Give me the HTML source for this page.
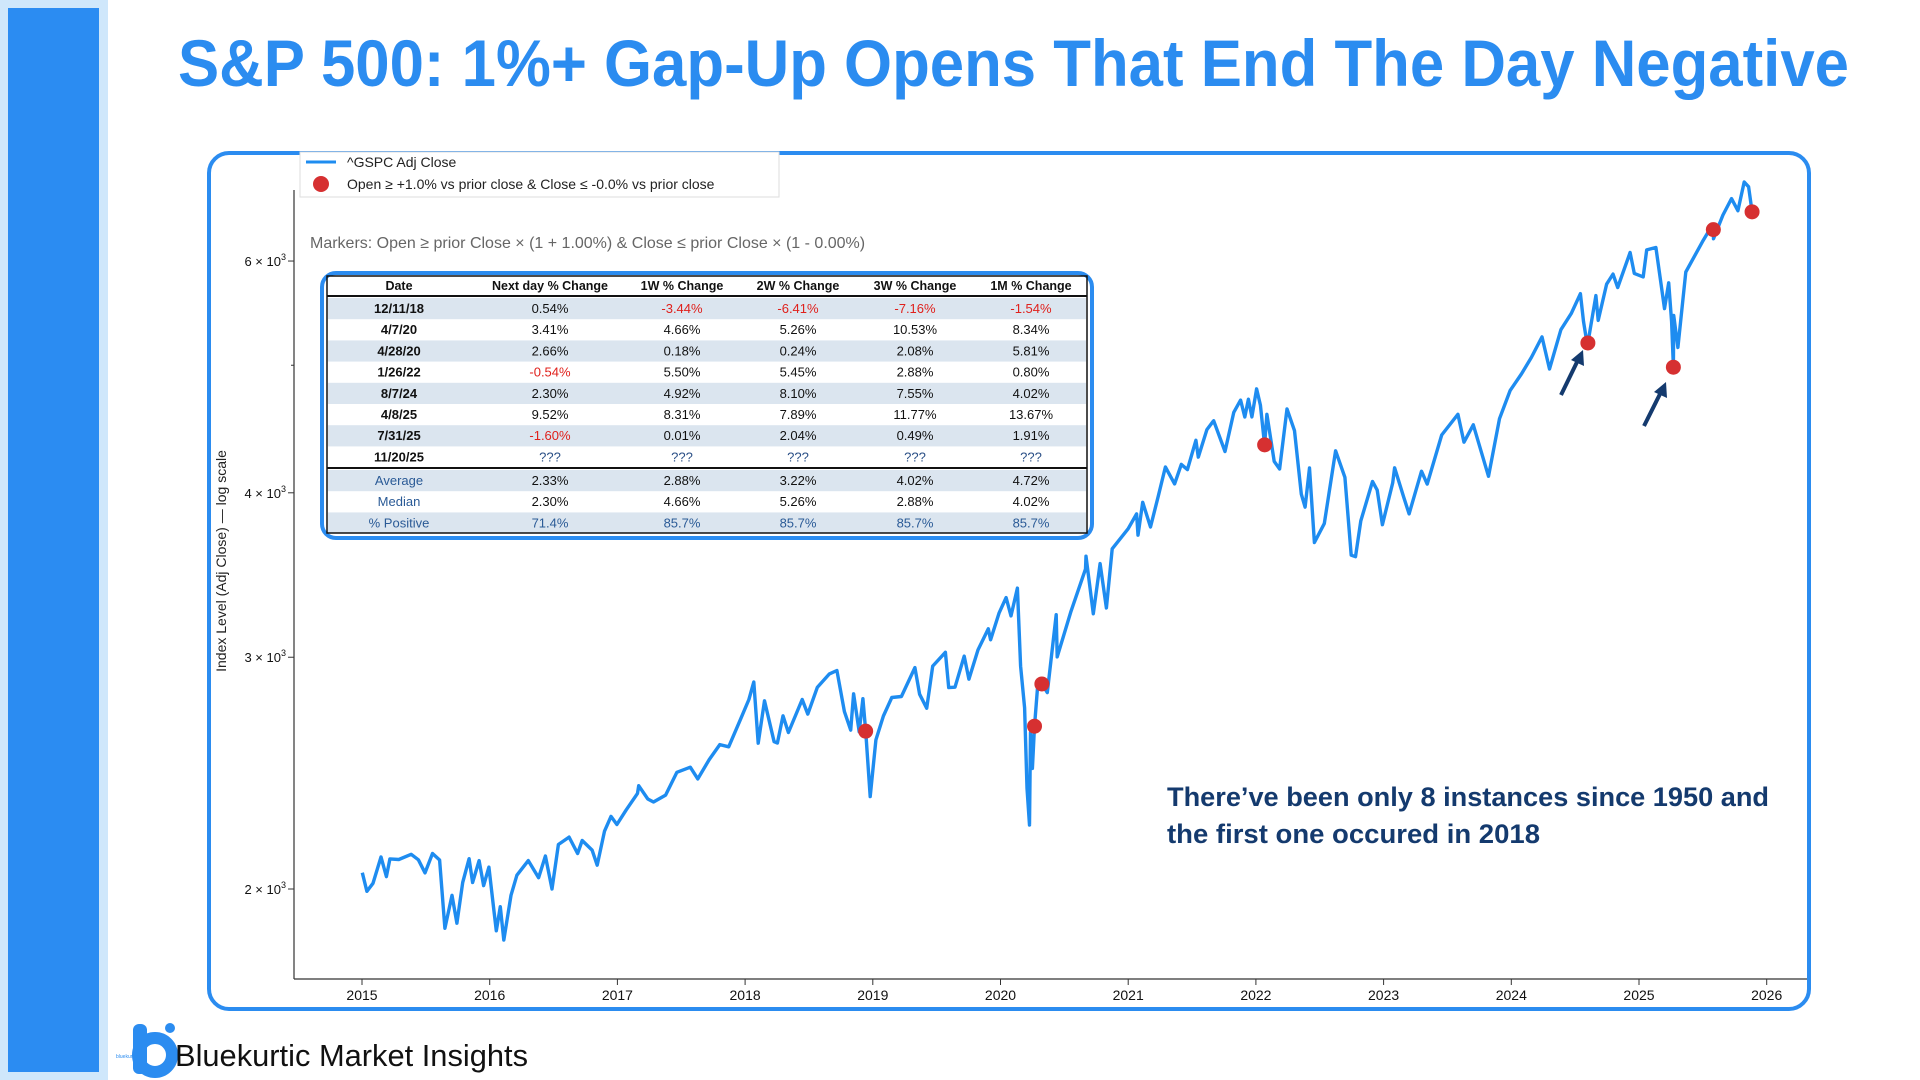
<!DOCTYPE html>
<html><head><meta charset="utf-8">
<style>
html,body{margin:0;padding:0;background:#fff;}
svg{display:block;font-family:"Liberation Sans",sans-serif;}
</style></head>
<body>
<svg id="root" width="1920" height="1080" viewBox="0 0 1920 1080" xmlns="http://www.w3.org/2000/svg">
  <rect x="0" y="0" width="108" height="1080" fill="#cfe7fb"/>
  <rect x="8" y="8" width="91" height="1064" fill="#2b8cf2"/>
  <text x="178" y="86" font-size="66" font-weight="bold" fill="#2b8cf0" textLength="1671" lengthAdjust="spacingAndGlyphs">S&amp;P 500: 1%+ Gap-Up Opens That End The Day Negative</text>

  <rect x="209" y="153" width="1600" height="856" rx="20" ry="20" fill="none" stroke="#2b8cf0" stroke-width="4"/>

  <g id="axes">
    <line x1="294" y1="190" x2="294" y2="979" stroke="#333" stroke-width="1.2"/>
    <line x1="294" y1="979" x2="1807" y2="979" stroke="#333" stroke-width="1.2"/>
  </g>
  <g id="xticks"></g>
  <g id="yticks"></g>
  <text transform="translate(226,561) rotate(-90)" text-anchor="middle" font-size="14" fill="#222">Index Level (Adj Close) — log scale</text>

  <path id="series" fill="none" stroke="#1e8cf0" stroke-width="3.4" stroke-linejoin="round"/>
  <g id="markers"></g>

  <g>
    <rect x="300" y="152" width="479" height="45" fill="#fff" stroke="#ddd"/>
    <line x1="306" y1="162" x2="336" y2="162" stroke="#1e8cf0" stroke-width="3"/>
    <text x="347" y="167" font-size="14" fill="#222">^GSPC Adj Close</text>
    <circle cx="321" cy="184" r="8" fill="#d63031"/>
    <text x="347" y="189" font-size="14" fill="#222">Open ≥ +1.0% vs prior close &amp; Close ≤ -0.0% vs prior close</text>
  </g>
  <text x="310" y="248" font-size="16" fill="#666">Markers: Open ≥ prior Close × (1 + 1.00%) &amp; Close ≤ prior Close × (1 - 0.00%)</text>

  <g id="table">
    <rect x="322" y="273" width="770" height="265" rx="14" fill="#fff" stroke="#2b8cf0" stroke-width="4"/>
  </g>

  <text x="1167" y="806" font-size="27" font-weight="bold" fill="#143a6e" textLength="602" lengthAdjust="spacingAndGlyphs">There’ve been only 8 instances since 1950 and</text>
  <text x="1167" y="843" font-size="27" font-weight="bold" fill="#143a6e" textLength="373" lengthAdjust="spacingAndGlyphs">the first one occured in 2018</text>

  <g>
    <line x1="1561" y1="395" x2="1578" y2="360" stroke="#143a6e" stroke-width="4"/>
    <polygon points="1583,350 1571,360 1584,366" fill="#143a6e"/>
  </g>
  <g>
    <line x1="1644" y1="426" x2="1661" y2="392" stroke="#143a6e" stroke-width="4"/>
    <polygon points="1666,382 1654,392 1667,398" fill="#143a6e"/>
  </g>

  <g>
    <rect x="133" y="1024" width="14" height="50" rx="6" fill="#2b8cf0"/>
    <circle cx="155" cy="1055" r="17" fill="none" stroke="#2b8cf0" stroke-width="12"/>
    <circle cx="170" cy="1028" r="5" fill="#2b8cf0"/>
    <text x="116" y="1058" font-size="5" fill="#2b8cf0">bluekurtic</text>
  </g>
  <text x="175" y="1066" font-size="31" fill="#111" textLength="353" lengthAdjust="spacingAndGlyphs">Bluekurtic Market Insights</text>
</svg>
<script>
const dates = ["2015-01-02","2015-01-15","2015-02-02","2015-02-25","2015-03-10","2015-03-20","2015-04-15","2015-05-20","2015-06-10","2015-06-29","2015-07-20","2015-08-10","2015-08-25","2015-09-15","2015-09-29","2015-10-15","2015-11-03","2015-11-13","2015-12-01","2015-12-14","2015-12-29",
"2016-01-12","2016-01-20","2016-02-01","2016-02-11","2016-03-01","2016-03-18","2016-04-20","2016-05-19","2016-06-08","2016-06-27","2016-07-15","2016-08-15","2016-09-09","2016-09-22","2016-10-20","2016-11-04","2016-11-25","2016-12-13","2016-12-30",
"2017-01-26","2017-02-28","2017-03-01","2017-03-27","2017-04-13","2017-05-17","2017-06-19","2017-07-27","2017-08-18","2017-09-20","2017-10-20","2017-11-15","2017-12-18",
"2018-01-12","2018-01-26","2018-02-08","2018-02-26","2018-03-23","2018-04-02","2018-04-18","2018-05-03","2018-06-12","2018-06-28","2018-07-25","2018-08-29","2018-09-20","2018-10-11","2018-10-29","2018-11-07","2018-11-23","2018-12-03","2018-12-11","2018-12-24",
"2019-01-10","2019-02-01","2019-02-25","2019-03-22","2019-04-30","2019-05-13","2019-06-03","2019-06-20","2019-07-26","2019-08-05","2019-08-23","2019-09-19","2019-10-02","2019-10-28","2019-11-27","2019-12-03","2019-12-27",
"2020-01-17","2020-01-31","2020-02-19","2020-02-28","2020-03-09","2020-03-16","2020-03-23","2020-03-26","2020-04-01","2020-04-07","2020-04-17","2020-04-28","2020-05-13","2020-06-08","2020-06-11","2020-07-20","2020-08-31","2020-09-02","2020-09-23","2020-10-12","2020-10-30","2020-11-16","2020-12-31",
"2021-01-25","2021-01-29","2021-02-12","2021-03-04","2021-03-26","2021-04-16","2021-05-12","2021-05-31","2021-06-18","2021-07-12","2021-07-19","2021-08-13","2021-08-30","2021-09-02","2021-10-04","2021-10-29","2021-11-18","2021-11-30","2021-12-10","2021-12-20",
"2022-01-03","2022-01-14","2022-01-26","2022-02-02","2022-02-23","2022-03-08","2022-03-29","2022-04-20","2022-05-09","2022-05-20","2022-06-02","2022-06-16","2022-07-14","2022-08-16","2022-09-12","2022-09-30","2022-10-12","2022-10-27","2022-11-30","2022-12-13","2022-12-28",
"2023-01-27","2023-02-02","2023-02-28","2023-03-13","2023-04-18","2023-05-04","2023-06-15","2023-07-31","2023-08-18","2023-09-14","2023-10-27","2023-11-28","2023-12-28",
"2024-01-30","2024-02-28","2024-03-28","2024-04-19","2024-05-21","2024-06-20","2024-07-16","2024-07-25","2024-08-05","2024-08-07","2024-08-30","2024-09-06","2024-09-30","2024-10-18","2024-11-01","2024-12-06","2024-12-18",
"2025-01-13","2025-01-23","2025-02-19","2025-03-13","2025-03-25","2025-04-03","2025-04-08","2025-04-09","2025-04-21","2025-05-13","2025-06-30","2025-07-28","2025-07-31","2025-08-01","2025-08-28","2025-09-22","2025-10-10","2025-10-28","2025-11-10","2025-11-20"];
const closes = [2058,1992,2020,2115,2044,2108,2106,2125,2105,2057,2128,2104,1867,1978,1884,2023,2109,2023,2102,2012,2078,
1938,1859,1939,1829,1978,2049,2102,2040,2119,2000,2162,2190,2128,2177,2141,2085,2213,2271,2239,
2296,2364,2396,2341,2329,2357,2453,2475,2425,2508,2575,2565,2690,
2786,2873,2581,2780,2588,2582,2708,2630,2786,2716,2846,2914,2931,2728,2641,2814,2633,2790,2636,2351,
2596,2707,2796,2801,2946,2812,2744,2954,3026,2845,2847,3006,2887,3039,3153,3093,3240,
3330,3225,3386,2954,2746,2386,2237,2630,2470,2659,2875,2863,2820,3232,3002,3251,3500,3580,3237,3534,3270,3627,3756,
3855,3714,3934,3768,3975,4185,4063,4204,4166,4385,4258,4468,4529,4537,4300,4605,4704,4567,4712,4568,
4797,4663,4350,4589,4226,4170,4632,4459,3991,3901,4177,3667,3790,4305,4110,3586,3577,3808,4080,4019,3783,
4070,4179,3970,3855,4154,4061,4426,4589,4370,4505,4117,4554,4783,
4924,5069,5254,4967,5321,5473,5667,5399,5186,5199,5648,5408,5762,5864,5729,6090,5872,
5836,6118,6144,5521,5776,5396,4983,5456,5158,5886,6205,6389,6339,6238,6502,6693,6552,6890,6832,6539];
const markerDates = ["2018-12-11","2020-04-07","2020-04-28","2022-01-26","2024-08-07","2025-04-08","2025-07-31","2025-11-20"];
const markerValues = [2636,2659,2863,4350,5199,4983,6339,6539];
const xTickLabels = ["2015","2016","2017","2018","2019","2020","2021","2022","2023","2024","2025","2026"];
const yTickValues = [2000,3000,4000,6000];
const yTickLabels = ["2","3","4","6"];
const yMinorValues = [5000];

const tableHeader = ["Date","Next day % Change","1W % Change","2W % Change","3W % Change","1M % Change"];
const tableDates = ["12/11/18","4/7/20","4/28/20","1/26/22","8/7/24","4/8/25","7/31/25","11/20/25"];
const nextDay = ["0.54%","3.41%","2.66%","-0.54%","2.30%","9.52%","-1.60%","???"];
const w1 = ["-3.44%","4.66%","0.18%","5.50%","4.92%","8.31%","0.01%","???"];
const w2 = ["-6.41%","5.26%","0.24%","5.45%","8.10%","7.89%","2.04%","???"];
const w3 = ["-7.16%","10.53%","2.08%","2.88%","7.55%","11.77%","0.49%","???"];
const m1 = ["-1.54%","8.34%","5.81%","0.80%","4.02%","13.67%","1.91%","???"];
const statLabels = ["Average","Median","% Positive"];
const statNextDay = ["2.33%","2.30%","71.4%"];
const statW1 = ["2.88%","4.66%","85.7%"];
const statW2 = ["3.22%","5.26%","85.7%"];
const statW3 = ["4.02%","2.88%","85.7%"];
const statM1 = ["4.72%","4.02%","85.7%"];

const NS = "http://www.w3.org/2000/svg";
function decYear(s){const p=s.split("-").map(Number);return p[0]+(p[1]-1)/12+(p[2]-1)/365;}
function xs(y){return 362+(y-2015)*127.7;}
function ys(v){return 889-571.6*Math.log(v/2000);}
function mk(tag,attrs,parent){const e=document.createElementNS(NS,tag);for(const k in attrs)e.setAttribute(k,attrs[k]);parent.appendChild(e);return e;}

const xt=document.getElementById("xticks");
xTickLabels.forEach(l=>{
  const x=xs(Number(l));
  const t=mk("line",{x1:x,y1:979,x2:x,y2:985,stroke:"#333"},xt);
  
  
  const tx=mk("text",{x:x,y:1000,"text-anchor":"middle","font-size":"14",fill:"#111"},xt);
  tx.textContent=l;
  
  
});
const yt=document.getElementById("yticks");
yTickValues.forEach((v,i)=>{
  const y=ys(v);
  const t=mk("line",{x1:288,y1:y,x2:294,y2:y,stroke:"#333"},yt);
  
  
  const tx=mk("text",{x:286,y:y+5,"text-anchor":"end","font-size":"13",fill:"#111"},yt);
  tx.textContent=yTickLabels[i]+" × 10";
  const sup=mk("tspan",{dy:"-6","font-size":"9"},tx);
  sup.textContent="3";
  
  
});
yMinorValues.forEach(v=>{
  const t=mk("line",{x1:291,y1:ys(v),x2:294,y2:ys(v),stroke:"#333"},yt);
  
  
});

let d="";
dates.forEach((s,i)=>{d+=(i?"L":"M")+xs(decYear(s)).toFixed(1)+","+ys(closes[i]).toFixed(1);});
document.getElementById("series").setAttribute("d",d);

const mg=document.getElementById("markers");
markerDates.forEach((s,i)=>{
  const c=mk("circle",{cx:xs(decYear(s)),cy:ys(markerValues[i]),r:7.5,fill:"#d63031"},mg);
  
  
});

const tb=document.getElementById("table");
const colX=[399,550,682,798,915,1031];
const rowH=21.2;
function txt(x,y,s,opts){const t=mk("text",Object.assign({x:x,y:y,"text-anchor":"middle","font-size":"13",fill:"#111"},opts||{}),tb);t.textContent=s;return t;}
for(let i=0;i<8;i++){
  if(i%2===0){const r=mk("rect",{x:328,y:298+i*rowH,width:758,height:rowH,fill:"#dbe5ef"},tb);
  
  }
}
for(let i=0;i<3;i++){
  if(i%2===0){const r=mk("rect",{x:328,y:470+i*rowH,width:758,height:rowH,fill:"#dbe5ef"},tb);
  
  }
}
mk("rect",{x:327,y:276,width:760,height:257,fill:"none",stroke:"#111","stroke-width":"1.5"},tb);
mk("line",{x1:327,y1:296,x2:1087,y2:296,stroke:"#111","stroke-width":"2"},tb);
mk("line",{x1:327,y1:468,x2:1087,y2:468,stroke:"#111","stroke-width":"2"},tb);
tableHeader.forEach((h,j)=>{
  const t=txt(colX[j],290,h,{"font-weight":"bold","font-size":"12.5"});
  
  
});
const cols=[nextDay,w1,w2,w3,m1];
tableDates.forEach((dt,i)=>{
  const y=313+i*rowH;
  const t=txt(colX[0],y,dt,{"font-weight":"bold"});
  
  
  cols.forEach((c,j)=>{
    const v=c[i];
    const col=v.startsWith("-")?"#e0201b":(v==="???"?"#2a4f86":"#111");
    const tc=txt(colX[j+1],y,v,{fill:col});
    
    
  });
});
const scols=[statNextDay,statW1,statW2,statW3,statM1];
statLabels.forEach((l,i)=>{
  const y=485+i*rowH;
  const t=txt(colX[0],y,l,{fill:"#2a5a96"});
  
  
  scols.forEach((c,j)=>{
    const tc=txt(colX[j+1],y,c[i],{fill:i===2?"#2a5a96":"#111"});
    
    
  });
});
</script>
</body></html>
